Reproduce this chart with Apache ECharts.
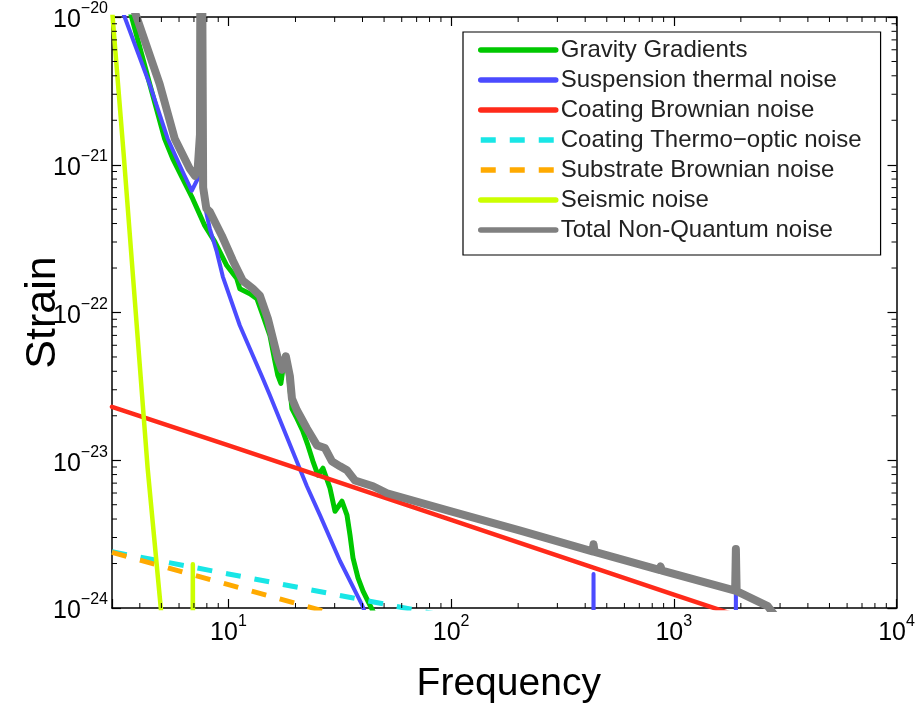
<!DOCTYPE html>
<html><head><meta charset="utf-8">
<script src="https://cdn.jsdelivr.net/npm/echarts@6/dist/echarts.min.js"></script>
<style>html,body{margin:0;padding:0;background:#fff}#c{width:917px;height:704px}</style>
</head><body><div id="c"></div>
<script>
// ---- data (frequency [Hz], strain) ----
const seriesNames = ['Gravity Gradients','Suspension thermal noise','Coating Brownian noise','Coating Thermo\u2212optic noise','Substrate Brownian noise','Seismic noise','Total Non-Quantum noise'];
const gravityGradients = [[3.5,1.3e-20],[3.675,1.0e-20],[4.43,3.52e-21],[5.17,1.5e-21],[5.62,1.1e-21],[6.23,8.04e-22],[6.91,5.89e-22],[7.83,3.87e-22],[8.68,3.02e-22],[9.83,2.08e-22],[10.9,1.7e-22],[11.25,1.45e-22],[12.48,1.34e-22],[13.42,1.24e-22],[14.28,9.55e-23],[15.35,7.0e-23],[16.17,4.67e-23],[16.67,3.75e-23],[17.2,3.31e-23],[17.93,5.12e-23],[18.49,4.19e-23],[19.28,2.24e-23],[20.3,1.92e-23],[21.6,1.57e-23],[22.75,1.26e-23],[23.96,9.84e-24],[25.23,7.93e-24],[26.58,8.83e-24],[28.58,6.47e-24],[30.1,4.52e-24],[32.36,5.28e-24],[34.07,4.25e-24],[35.15,3.11e-24],[36.26,2.18e-24],[38.18,1.6e-24],[40.22,1.3e-24],[42.36,1.11e-24],[44.61,9.5e-25],[48,5e-25]];
const suspensionThermal = [[3.3,1.16e-20],[3.419,1.0e-20],[4.43,3.5e-21],[5.336,1.5e-21],[6.233,8.97e-22],[6.843,6.67e-22],[6.914,6.58e-22],[7.282,8.04e-22],[7.45,1.2e-21],[7.53,1e-18],[7.57,1e-18],[7.65,7.0e-22],[7.83,5.28e-22],[8.246,3.7e-22],[8.864,2.58e-22],[9.433,1.75e-22],[11.25,8.17e-23],[14.13,3.7e-23],[15.35,2.75e-23],[22.51,6.67e-24],[25.76,4.25e-24],[31.7,2.08e-24],[39.81,1.05e-24],[55,3e-25],[430,3e-28],[436,1.7e-24],[442,3e-28],[1880,2e-29],[1900,1.8e-24],[1920,2e-29],[10000,5e-31]];
const coatingBrownian = [[3,2.3e-23],[10,1.26e-23],[100,3.95e-24],[1000,1.23e-24],[10000,3.9e-25]];
const coatingThermoOptic = [[3,2.4e-24],[10,1.7e-24],[100,8.7e-25],[1000,4.5e-25]];
const substrateBrownian = [[3,2.38e-24],[10,1.44e-24],[100,5.5e-25]];
const seismic = [[2.95,1.55e-20],[3.02,1.0e-20],[3.383,1.19e-21],[4.337,8.83e-24],[4.962,1.02e-24],[5.6,1e-25],[6.85,1e-27],[6.92,1.98e-24],[6.99,1e-27],[10,1e-28]];
const totalNonQuantum = [[3.6,1.37e-20],[3.87,1.0e-20],[4.91,3.52e-21],[5.74,1.5e-21],[6.70,9.4e-22],[7.06,8.43e-22],[7.28,9.5e-22],[7.45,1.6e-21],[7.53,1e-18],[7.57,1e-18],[7.7,7.0e-22],[7.96,5.05e-22],[8.25,4.81e-22],[9.34,3.31e-22],[10.46,2.25e-22],[11.6,1.64e-22],[12.87,1.45e-22],[13.84,1.3e-22],[15.03,9.1e-23],[15.83,6.67e-23],[16.67,4.89e-23],[17.38,4.1e-23],[18.11,5.05e-23],[18.88,3.7e-23],[19.28,2.62e-23],[20.3,2.18e-23],[22.51,1.64e-23],[24.98,1.26e-23],[27.13,1.21e-23],[29.17,9.84e-24],[31.7,9.1e-24],[34.07,8.55e-24],[37.0,7.3e-24],[44.6,6.67e-24],[51.6,5.98e-24],[99,4.52e-24],[204.5,3.34e-24],[431,2.42e-24],[436,2.7e-24],[441,2.4e-24],[860,1.81e-24],[872,1.91e-24],[885,1.79e-24],[1885,1.31e-24],[1900,2.51e-24],[1915,1.3e-24],[2641,1.03e-24],[3000,8e-25],[3400,6e-25]];
const xMinorTicks = [4,5,6,7,8,9,20,30,40,50,60,70,80,90,200,300,400,500,600,700,800,900,2000,3000,4000,5000,6000,7000,8000,9000];
const yMinorTicks = [2e-24,3e-24,4e-24,5e-24,6e-24,7e-24,8e-24,9e-24,2e-23,3e-23,4e-23,5e-23,6e-23,7e-23,8e-23,9e-23,2e-22,3e-22,4e-22,5e-22,6e-22,7e-22,8e-22,9e-22,2e-21,3e-21,4e-21,5e-21,6e-21,7e-21,8e-21,9e-21];

const colors = ['#00c800','#4b4bff','#ff2a1a','#19e6e6','#ffaa00','#ccff00','#808080'];
const widths = [5, 4, 4.5, 5, 5, 4.5, 8];
const dashed = [false,false,false,true,true,false,false];
const dataList = [gravityGradients, suspensionThermal, coatingBrownian, coatingThermoOptic, substrateBrownian, seismic, totalNonQuantum];

// The log axis works in units of 1e-24 strain (ECharts rounds tiny powers to 0);
// labels are converted back to strain exponents.
const UNIT_EXP = 24, UNIT = 1e24;
const toAxis = s => s * UNIT;
const X_MIN = 3, X_MAX = 10000, Y_MIN = toAxis(1e-24), Y_MAX = toAxis(1e-20);
const FONT = "'Liberation Sans', Arial, Helvetica, sans-serif";
function powLabelX(v){
  const l = Math.log10(v); const e = Math.round(l);
  if (!isFinite(l) || Math.abs(l - e) > 1e-3) return '';
  return '{b|10}{s|' + e + '}';
}
function powLabelY(v){
  const l = Math.log10(v); const e = Math.round(l);
  if (!isFinite(l) || Math.abs(l - e) > 1e-3) return '';
  const ex = e - UNIT_EXP;
  return '{b|10}{s|' + (ex < 0 ? '\u2212' + (-ex) : ex) + '}';
}
const rich = {
  b: {fontSize: 25, fontFamily: FONT, color: '#000', lineHeight: 32, verticalAlign: 'bottom'},
  s: {fontSize: 16, fontFamily: FONT, color: '#000', lineHeight: 32, verticalAlign: 'top'}
};
function mkAxis(isX, pos, labels){
  return {
    type: 'log', logBase: 10, position: pos,
    min: isX ? X_MIN : Y_MIN, max: isX ? X_MAX : Y_MAX,
    axisLine: {show: true, onZero: false, lineStyle: {color: '#000', width: 1.5}},
    axisTick: {show: true, inside: true, length: 9, lineStyle: {color: '#000', width: 1.2}},
    splitLine: {show: false},
    axisLabel: {show: labels, formatter: isX ? powLabelX : powLabelY, rich: rich, margin: isX ? 6 : 4, color: '#000'}
  };
}
const xMain = mkAxis(true, 'bottom', true);
xMain.name = 'Frequency'; xMain.nameLocation = 'middle'; xMain.nameGap = 57;
xMain.nameTextStyle = {fontSize: 39, fontFamily: FONT, color: '#000', padding: [0, 0, 0, 9]};
const yMain = mkAxis(false, 'left', true);
yMain.name = 'Strain'; yMain.nameLocation = 'middle'; yMain.nameGap = 47;
yMain.nameMoveOverlap = false;
yMain.nameTextStyle = {fontSize: 43, fontFamily: FONT, color: '#000'};

const series = seriesNames.map((n, i) => ({
  name: n, type: 'line', data: dataList[i].map(p => [p[0], toAxis(p[1])]), xAxisIndex: 0, yAxisIndex: 0,
  showSymbol: false, symbol: 'none', clip: true, z: 2 + i,
  lineStyle: {color: colors[i], width: widths[i], type: dashed[i] ? [15, 14] : 'solid', cap: dashed[i] ? 'butt' : 'round', join: 'round'},
  itemStyle: {color: colors[i]}
}));

// minor ticks drawn through the axes' own coordinate mapping
function minorRender(params, api){
  const kind = api.value(0), v = api.value(1);
  const L = 5, st = {stroke: '#000', lineWidth: 1};
  if (kind === 0) {
    const b = api.coord([v, Y_MIN]), t = api.coord([v, Y_MAX]);
    return {type: 'group', children: [
      {type: 'line', shape: {x1: b[0], y1: b[1], x2: b[0], y2: b[1] - L}, style: st},
      {type: 'line', shape: {x1: t[0], y1: t[1], x2: t[0], y2: t[1] + L}, style: st}
    ]};
  } else {
    const l = api.coord([X_MIN, v]), r = api.coord([X_MAX, v]);
    return {type: 'group', children: [
      {type: 'line', shape: {x1: l[0], y1: l[1], x2: l[0] + L, y2: l[1]}, style: st},
      {type: 'line', shape: {x1: r[0], y1: r[1], x2: r[0] - L, y2: r[1]}, style: st}
    ]};
  }
}
const minorData = xMinorTicks.map(v => [0, v]).concat(yMinorTicks.map(v => [1, toAxis(v)]));
series.push({
  type: 'custom', name: 'minorTicks', renderItem: minorRender, data: minorData,
  encode: {x: -1, y: -1}, clip: false, silent: true, z: 20, xAxisIndex: 0, yAxisIndex: 0
});

const chart = echarts.init(document.getElementById('c'), null, {renderer: 'canvas'});
chart.setOption({
  animation: false,
  backgroundColor: '#fff',
  grid: {left: 112, right: 20.5, top: 17, bottom: 96, containLabel: false, outerBoundsMode: 'none'},
  xAxis: [xMain, mkAxis(true, 'top', false)],
  yAxis: [yMain, mkAxis(false, 'right', false)],
  legend: {
    orient: 'vertical', left: 463, top: 32, selectedMode: false,
    padding: [6, 19, 13, 15], itemGap: 6, itemWidth: 75, itemHeight: 24,
    backgroundColor: '#fff', borderColor: '#000', borderWidth: 1.2, borderRadius: 0,
    lineStyle: {width: 5.5},
    itemStyle: {opacity: 0, borderWidth: 0},
    textStyle: {fontSize: 24, fontFamily: FONT, color: '#222', lineHeight: 24},
    data: seriesNames
  },
  series: series
});
</script></body></html>
